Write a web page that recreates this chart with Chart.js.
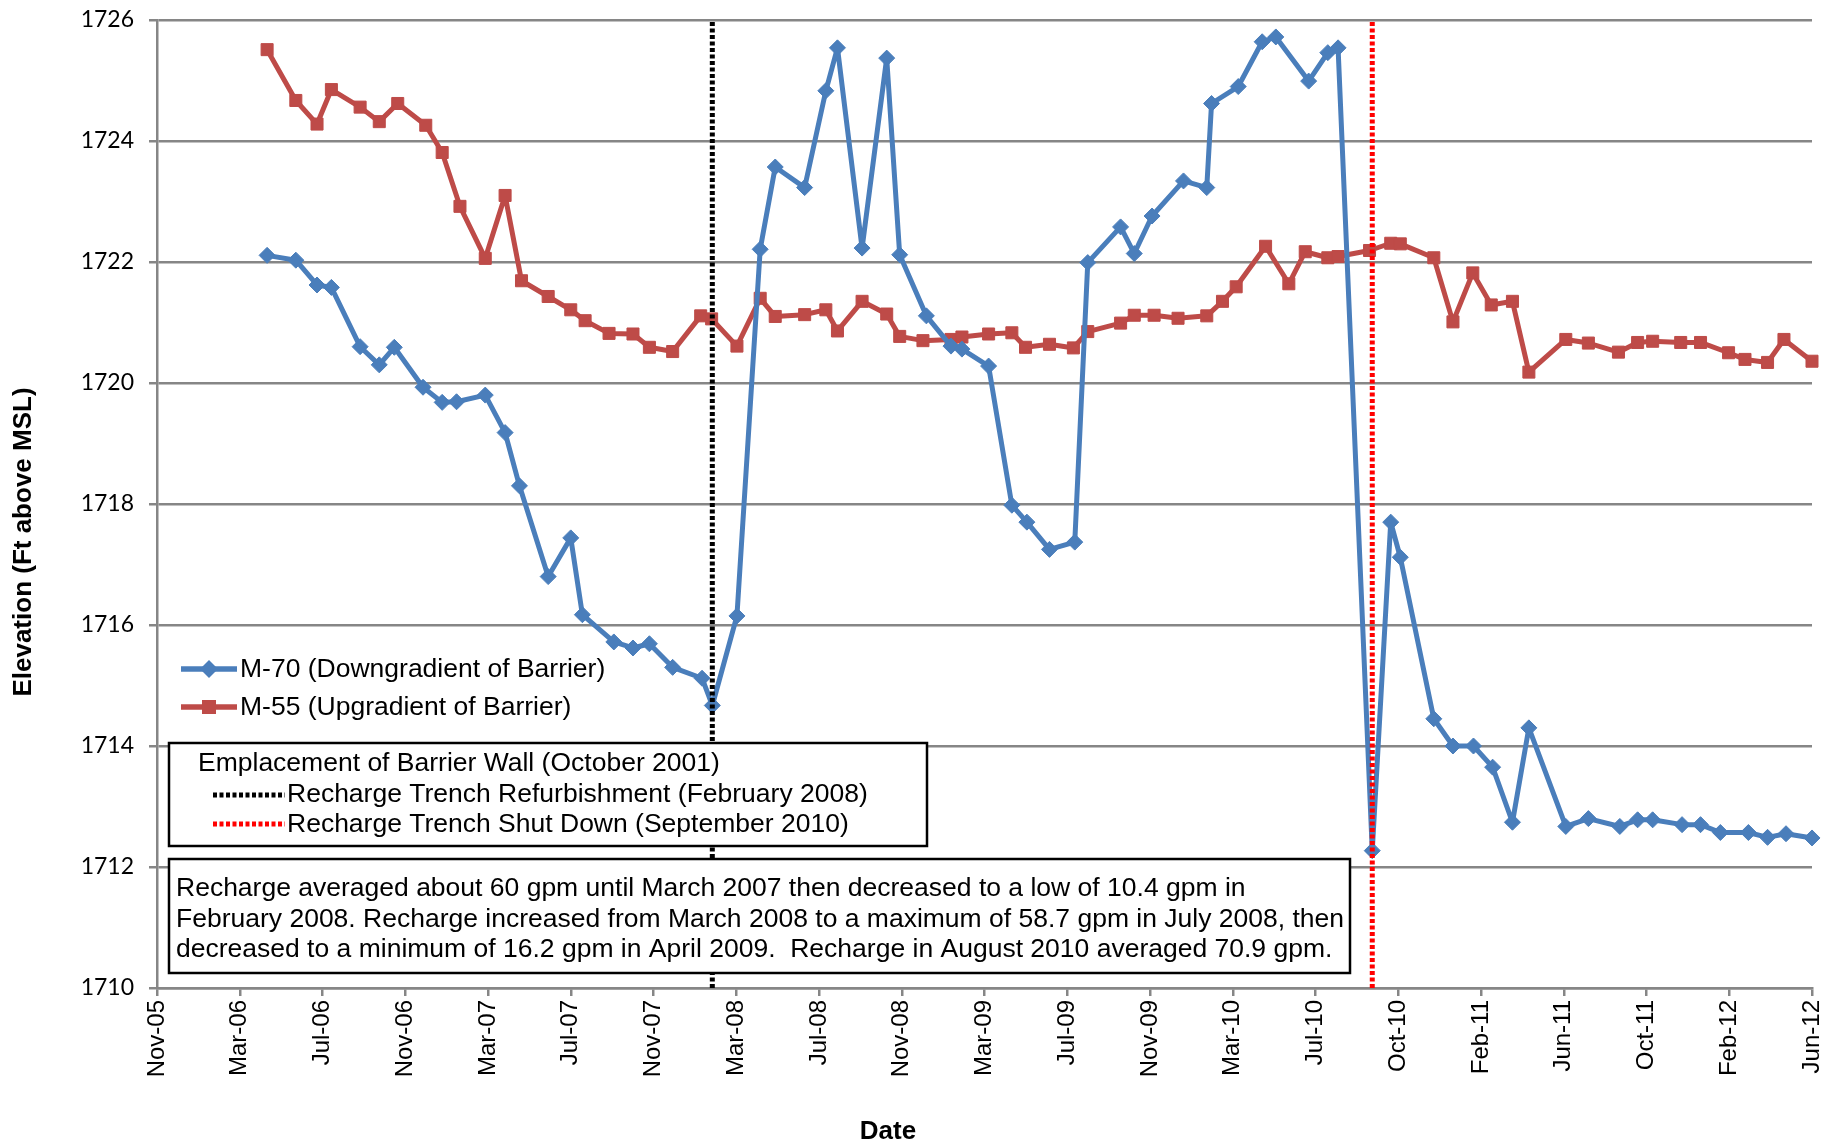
<!DOCTYPE html>
<html>
<head>
<meta charset="utf-8">
<title>M-70 / M-55 Elevation</title>
<script src="https://cdn.jsdelivr.net/npm/chart.js@4.4.0/dist/chart.umd.min.js"></script>
<style>
  html, body { margin: 0; padding: 0; background: #fff; }
  #wrap { width: 1833px; height: 1147px; position: relative; }
</style>
</head>
<body>
<div id="wrap"><canvas id="elevation_chart"></canvas></div>
<script>
// M-70 (Downgradient of Barrier)
var m70Dates = [
  '2006-04-21', '2006-06-02', '2006-07-03', '2006-07-24', '2006-09-04', '2006-10-02', '2006-10-24', '2006-12-05',
  '2007-01-02', '2007-01-23', '2007-03-06', '2007-04-04', '2007-04-25', '2007-06-06', '2007-07-09', '2007-07-26',
  '2007-09-10', '2007-10-08', '2007-11-01', '2007-12-05', '2008-01-17', '2008-02-01', '2008-03-08', '2008-04-11',
  '2008-05-03', '2008-06-15', '2008-07-16', '2008-08-02', '2008-09-07', '2008-10-13', '2008-11-01', '2008-12-10',
  '2009-01-15', '2009-01-31', '2009-03-11', '2009-04-14', '2009-05-06', '2009-06-08', '2009-07-15', '2009-08-03',
  '2009-09-20', '2009-10-10', '2009-11-05', '2009-12-21', '2010-01-24', '2010-01-31', '2010-03-11', '2010-04-15',
  '2010-05-05', '2010-06-22', '2010-07-20', '2010-08-04', '2010-09-23', '2010-10-20', '2010-11-03', '2010-12-22',
  '2011-01-19', '2011-02-18', '2011-03-18', '2011-04-16', '2011-05-10', '2011-07-03', '2011-08-05', '2011-09-20',
  '2011-10-16', '2011-11-07', '2011-12-20', '2012-01-16', '2012-02-14', '2012-03-26', '2012-04-23', '2012-05-20',
  '2012-06-27'
];
var m70Values = [
  1722.11, 1722.03, 1721.62, 1721.58, 1720.60, 1720.30, 1720.59, 1719.93,
  1719.68, 1719.69, 1719.80, 1719.18, 1718.30, 1716.80, 1717.44, 1716.17,
  1715.72, 1715.62, 1715.69, 1715.30, 1715.12, 1714.67, 1716.15, 1722.21,
  1723.57, 1723.23, 1724.83, 1725.54, 1722.23, 1725.37, 1722.12, 1721.11,
  1720.61, 1720.56, 1720.28, 1717.98, 1717.70, 1717.25, 1717.37, 1721.99,
  1722.58, 1722.14, 1722.76, 1723.34, 1723.23, 1724.62, 1724.90, 1725.64,
  1725.72, 1724.99, 1725.46, 1725.54, 1712.27, 1717.70, 1717.12, 1714.45,
  1714.00, 1714.00, 1713.65, 1712.74, 1714.30, 1712.67, 1712.80, 1712.67,
  1712.78, 1712.78, 1712.70, 1712.70, 1712.57, 1712.57, 1712.49, 1712.55,
  1712.48
];

// M-55 (Upgradient of Barrier)
var m55Dates = [
  '2006-04-21', '2006-06-02', '2006-07-03', '2006-07-24', '2006-09-04', '2006-10-02', '2006-10-29', '2006-12-09',
  '2007-01-02', '2007-01-28', '2007-03-06', '2007-04-04', '2007-04-28', '2007-06-06', '2007-07-09', '2007-07-30',
  '2007-09-03', '2007-10-08', '2007-11-01', '2007-12-05', '2008-01-15', '2008-01-31', '2008-03-08', '2008-04-11',
  '2008-05-03', '2008-06-15', '2008-07-16', '2008-08-02', '2008-09-07', '2008-10-13', '2008-11-01', '2008-12-05',
  '2009-01-15', '2009-01-31', '2009-03-11', '2009-04-14', '2009-05-04', '2009-06-08', '2009-07-13', '2009-08-03',
  '2009-09-20', '2009-10-10', '2009-11-08', '2009-12-13', '2010-01-24', '2010-02-16', '2010-03-08', '2010-04-20',
  '2010-05-24', '2010-06-17', '2010-07-20', '2010-08-04', '2010-09-19', '2010-10-20', '2010-11-03', '2010-12-22',
  '2011-01-19', '2011-02-17', '2011-03-16', '2011-04-16', '2011-05-10', '2011-07-03', '2011-08-05', '2011-09-18',
  '2011-10-16', '2011-11-07', '2011-12-18', '2012-01-16', '2012-02-26', '2012-03-21', '2012-04-23', '2012-05-17',
  '2012-06-27'
];
var m55Values = [
  1725.51, 1724.67, 1724.28, 1724.85, 1724.56, 1724.32, 1724.62, 1724.26,
  1723.81, 1722.92, 1722.06, 1723.10, 1721.69, 1721.43, 1721.21, 1721.03,
  1720.82, 1720.81, 1720.59, 1720.52, 1721.11, 1721.06, 1720.61, 1721.40,
  1721.10, 1721.13, 1721.21, 1720.86, 1721.35, 1721.14, 1720.77, 1720.70,
  1720.72, 1720.76, 1720.81, 1720.83, 1720.59, 1720.64, 1720.58, 1720.85,
  1720.99, 1721.12, 1721.12, 1721.07, 1721.11, 1721.35, 1721.59, 1722.26,
  1721.64, 1722.17, 1722.07, 1722.09, 1722.19, 1722.31, 1722.30, 1722.07,
  1721.01, 1721.82, 1721.29, 1721.35, 1720.18, 1720.72, 1720.66, 1720.51,
  1720.67, 1720.69, 1720.67, 1720.67, 1720.50, 1720.39, 1720.34, 1720.72,
  1720.36
];

// event lines
var refurbishDate = '2008-02-01';
var shutDownDate = '2010-09-23';

// axes
var axisStart = '2005-11-11';
var tickStepDays = 121;
var tickLabels = ['Nov-05', 'Mar-06', 'Jul-06', 'Nov-06', 'Mar-07', 'Jul-07', 'Nov-07', 'Mar-08', 'Jul-08', 'Nov-08',
  'Mar-09', 'Jul-09', 'Nov-09', 'Mar-10', 'Jul-10', 'Oct-10', 'Feb-11', 'Jun-11', 'Oct-11', 'Feb-12', 'Jun-12'];
var yMin = 1710, yMax = 1726, yStep = 2;

var noteLines = [
  'Recharge averaged about 60 gpm until March 2007 then decreased to a low of 10.4 gpm in',
  'February 2008. Recharge increased from March 2008 to a maximum of 58.7 gpm in July 2008, then',
  'decreased to a minimum of 16.2 gpm in April 2009.  Recharge in August 2010 averaged 70.9 gpm.'
];

function toDay(s) {
  var p = s.split('-');
  return Date.UTC(+p[0], +p[1] - 1, +p[2]) / 86400000;
}
function toPoints(dates, values) {
  return dates.map(function (d, i) { return { x: toDay(d), y: values[i] }; });
}

var BLUE = '#4A7EBB';
var RED = '#BE4B48';
var GRID = '#868686';
var ARIAL = '"Liberation Sans", Arial, sans-serif';
var xMin = toDay(axisStart);
var xMax = xMin + tickStepDays * (tickLabels.length - 1);

function dottedLine(date, color, dash) {
  return {
    data: [{ x: toDay(date), y: yMin }, { x: toDay(date), y: yMax }],
    borderColor: color,
    borderWidth: 5,
    borderDash: dash,
    pointRadius: 0,
    clip: false
  };
}

function diamond(ctx, x, y, r) {
  ctx.beginPath();
  ctx.moveTo(x - r, y); ctx.lineTo(x, y - r); ctx.lineTo(x + r, y); ctx.lineTo(x, y + r);
  ctx.closePath();
  ctx.fill();
}

var notesPlugin = {
  id: 'notes',
  afterDatasetsDraw: function (chart) {
    var ctx = chart.ctx;
    ctx.save();
    ctx.font = '26.5px ' + ARIAL;
    ctx.fillStyle = '#000';
    ctx.textBaseline = 'middle';
    ctx.textAlign = 'left';

    // series legend
    ctx.lineWidth = 5.5;
    ctx.strokeStyle = BLUE;
    ctx.beginPath(); ctx.moveTo(181, 669); ctx.lineTo(237, 669); ctx.stroke();
    ctx.fillStyle = BLUE;
    diamond(ctx, 209, 669, 9);
    ctx.strokeStyle = RED;
    ctx.beginPath(); ctx.moveTo(181, 707); ctx.lineTo(237, 707); ctx.stroke();
    ctx.fillStyle = RED;
    ctx.fillRect(202, 700, 14, 14);
    ctx.fillStyle = '#000';
    ctx.fillText('M-70 (Downgradient of Barrier)', 240, 670);
    ctx.fillText('M-55 (Upgradient of Barrier)', 240, 708);

    // event legend box
    ctx.fillStyle = '#fff';
    ctx.fillRect(169, 743, 758, 103);
    ctx.strokeStyle = '#000';
    ctx.lineWidth = 2.5;
    ctx.strokeRect(169, 743, 758, 103);
    ctx.fillStyle = '#000';
    ctx.fillText('Emplacement of Barrier Wall (October 2001)', 198, 764);
    ctx.lineWidth = 5;
    ctx.setLineDash([4, 2.5]);
    ctx.strokeStyle = '#000';
    ctx.beginPath(); ctx.moveTo(213, 795); ctx.lineTo(285, 795); ctx.stroke();
    ctx.strokeStyle = '#FF0000';
    ctx.beginPath(); ctx.moveTo(213, 824); ctx.lineTo(285, 824); ctx.stroke();
    ctx.setLineDash([]);
    ctx.fillText('Recharge Trench Refurbishment (February 2008)', 287, 795);
    ctx.fillText('Recharge Trench Shut Down (September 2010)', 287, 825);

    // recharge note box
    ctx.fillStyle = '#fff';
    ctx.fillRect(169, 859, 1181, 114);
    ctx.strokeStyle = '#000';
    ctx.lineWidth = 2.5;
    ctx.strokeRect(169, 859, 1181, 114);
    ctx.fillStyle = '#000';
    noteLines.forEach(function (line, i) {
      ctx.fillText(line, 176, 889 + i * 30.5);
    });

    // axis titles
    ctx.font = 'bold 26px ' + ARIAL;
    ctx.textAlign = 'center';
    ctx.fillText('Date', 888, 1132);
    ctx.translate(24, 542);
    ctx.rotate(-Math.PI / 2);
    ctx.fillText('Elevation (Ft above MSL)', 0, 0);
    ctx.restore();
  }
};

new Chart(document.getElementById('elevation_chart'), {
  type: 'line',
  data: {
    datasets: [
      Object.assign(dottedLine(refurbishDate, '#000000', [4, 2.5]), { label: 'Recharge Trench Refurbishment' }),
      Object.assign(dottedLine(shutDownDate, '#FF0000', [4, 2.5]), { label: 'Recharge Trench Shut Down' }),
      {
        label: 'M-70 (Downgradient of Barrier)',
        data: toPoints(m70Dates, m70Values),
        borderColor: BLUE,
        backgroundColor: BLUE,
        borderWidth: 5,
        borderJoinStyle: 'round',
        pointStyle: 'rectRot',
        pointRadius: 8,
        pointBorderWidth: 1,
        clip: false
      },
      {
        label: 'M-55 (Upgradient of Barrier)',
        data: toPoints(m55Dates, m55Values),
        borderColor: RED,
        backgroundColor: RED,
        borderWidth: 5,
        borderJoinStyle: 'round',
        pointStyle: 'rect',
        pointRadius: 8.5,
        pointBorderWidth: 1,
        clip: false
      }
    ]
  },
  options: {
    responsive: true,
    maintainAspectRatio: false,
    animation: false,
    devicePixelRatio: 1,
    layout: { padding: { top: 20, right: 21, left: 0, bottom: 0 } },
    plugins: {
      legend: { display: false },
      tooltip: { enabled: false }
    },
    scales: {
      x: {
        type: 'linear',
        min: xMin,
        max: xMax,
        afterBuildTicks: function (axis) {
          axis.ticks = tickLabels.map(function (l, i) { return { value: xMin + i * tickStepDays }; });
        },
        afterFit: function (axis) {
          axis.height = 159;
          axis.paddingLeft = 0;
          axis.paddingRight = 0;
        },
        ticks: {
          autoSkip: false,
          maxRotation: 90,
          minRotation: 90,
          padding: 4,
          color: '#000',
          font: { family: ARIAL, size: 24 },
          callback: function (value, index) { return tickLabels[index]; }
        },
        grid: { drawOnChartArea: false, drawTicks: true, tickLength: 8, color: GRID, lineWidth: 2.5 },
        border: { color: GRID, width: 2.5 }
      },
      y: {
        min: yMin,
        max: yMax,
        afterFit: function (axis) {
          axis.width = 157;
          axis.paddingTop = 0;
          axis.paddingBottom = 0;
        },
        ticks: {
          stepSize: yStep,
          padding: 15,
          color: '#000',
          font: { family: 'Lato, sans-serif', size: 23 },
          callback: function (value) { return String(value); }
        },
        grid: { color: GRID, lineWidth: 2.5, tickLength: 8 },
        border: { color: GRID, width: 2.5 }
      }
    }
  },
  plugins: [notesPlugin]
});
</script>
</body>
</html>
